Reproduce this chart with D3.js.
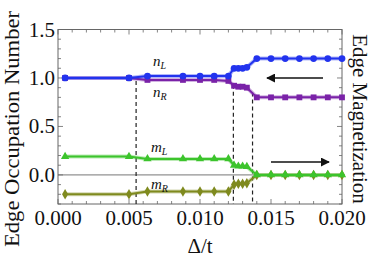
<!DOCTYPE html>
<html>
<head>
<meta charset="utf-8">
<script src="https://cdn.jsdelivr.net/npm/d3@7"></script>
<style>
  body { margin: 0; background: #fff; }
  svg text { font-family: "Times New Roman", "Liberation Serif", "DejaVu Serif", serif; fill: #111; }
</style>
</head>
<body>
<svg id="chart"></svg>
<script>
// data
const xVals = [0.0005, 0.005, 0.0063, 0.0088, 0.010, 0.011, 0.012, 0.0124, 0.0127, 0.0130, 0.0133, 0.014, 0.015, 0.016, 0.017, 0.018, 0.019, 0.020];
const nL = [1.0, 1.0, 1.02, 1.02, 1.02, 1.02, 1.02, 1.10, 1.10, 1.10, 1.11, 1.2, 1.2, 1.2, 1.2, 1.2, 1.2, 1.2];
const nR = [1.0, 1.0, 0.98, 0.98, 0.98, 0.98, 0.97, 0.92, 0.91, 0.91, 0.90, 0.8, 0.8, 0.8, 0.8, 0.8, 0.8, 0.8];
const mL = [0.19, 0.19, 0.165, 0.165, 0.165, 0.165, 0.165, 0.10, 0.09, 0.09, 0.085, 0, 0, 0, 0, 0, 0, 0];
const mR = [-0.2, -0.2, -0.17, -0.17, -0.17, -0.17, -0.17, -0.10, -0.09, -0.09, -0.085, 0, 0, 0, 0, 0, 0, 0];

const vlineX = [0.0055, 0.01235, 0.0137];
const vlineTop = [0.97, 0.93, 0.85];

const xTicks = [0, 0.005, 0.010, 0.015, 0.020];
const yTicks = [0, 0.5, 1.0, 1.5];

const svgWidth = 374, svgHeight = 260;
const margin = { top: 29.5, right: 32, bottom: 56, left: 58 };
const serif = '"Times New Roman", "Liberation Serif", "DejaVu Serif", serif';

const xScale = d3.scaleLinear().domain([0, 0.02])
  .range([margin.left, svgWidth - margin.right]);
const yScale = d3.scaleLinear().domain([-0.3, 1.5])
  .range([svgHeight - margin.bottom, margin.top]);

const svg = d3.select('#chart')
  .attr('width', svgWidth)
  .attr('height', svgHeight)
  .attr('font-family', serif);

const x0 = xScale.range()[0], x1 = xScale.range()[1];
const y0 = yScale.range()[0], y1 = yScale.range()[1];

// zero line
svg.append('line')
  .attr('x1', x0).attr('x2', x1)
  .attr('y1', yScale(0)).attr('y2', yScale(0))
  .attr('stroke', '#777').attr('stroke-width', 1);

// frame
svg.append('rect')
  .attr('x', x0).attr('y', y1)
  .attr('width', x1 - x0).attr('height', y0 - y1)
  .attr('fill', 'none').attr('stroke', '#666').attr('stroke-width', 1);

// inward ticks on all four sides
const xMinor = d3.range(0, 0.0205, 0.001);
const yMinor = d3.range(-3, 16).map(d => d / 10);
const tickG = svg.append('g').attr('stroke', '#666').attr('stroke-width', 0.8);
xMinor.forEach((v, i) => {
  const len = i % 5 === 0 ? 5 : 3;
  tickG.append('line').attr('x1', xScale(v)).attr('x2', xScale(v)).attr('y1', y0).attr('y2', y0 - len);
  tickG.append('line').attr('x1', xScale(v)).attr('x2', xScale(v)).attr('y1', y1).attr('y2', y1 + len);
});
yMinor.forEach(v => {
  const len = Math.abs(Math.round(v * 10)) % 5 === 0 ? 5 : 3;
  tickG.append('line').attr('y1', yScale(v)).attr('y2', yScale(v)).attr('x1', x0).attr('x2', x0 + len);
  tickG.append('line').attr('y1', yScale(v)).attr('y2', yScale(v)).attr('x1', x1).attr('x2', x1 - len);
});

// tick labels
svg.selectAll('.xlab').data(xTicks).enter().append('text')
  .attr('x', d => xScale(d)).attr('y', 225)
  .attr('text-anchor', 'middle').attr('font-size', 21)
  .text(d => d3.format('.3f')(d));
svg.selectAll('.ylab').data(yTicks).enter().append('text')
  .attr('x', 55).attr('y', d => yScale(d) + 7)
  .attr('text-anchor', 'end').attr('font-size', 21)
  .text(d => d3.format('.1f')(d));

// dashed vertical markers
svg.selectAll('.vline').data(vlineX).enter().append('line')
  .attr('x1', d => xScale(d)).attr('x2', d => xScale(d))
  .attr('y1', (d, i) => yScale(vlineTop[i])).attr('y2', y0)
  .attr('stroke', '#222').attr('stroke-width', 1.2)
  .attr('stroke-dasharray', '4,3');

const series = [
  { vals: mR, color: '#7f8a1e', sym: d3.symbolDiamond, size: 32 },
  { vals: mL, color: '#3cc42c', sym: d3.symbolTriangle, size: 30 },
  { vals: nR, color: '#7a22a8', sym: d3.symbolSquare, size: 34 },
  { vals: nL, color: '#2233ee', sym: d3.symbolCircle, size: 36 }
];

const line = d3.line().x(d => xScale(d[0])).y(d => yScale(d[1]));

series.forEach(s => {
  const pts = xVals.map((x, i) => [x, s.vals[i]]);
  svg.append('path').datum(pts)
    .attr('d', line).attr('fill', 'none')
    .attr('stroke', s.color).attr('stroke-opacity', 0.35).attr('stroke-width', 4);
  svg.append('path').datum(pts)
    .attr('d', line).attr('fill', 'none')
    .attr('stroke', s.color).attr('stroke-width', 2);
  svg.selectAll(null).data(pts).enter().append('path')
    .attr('d', d3.symbol().type(s.sym).size(s.size))
    .attr('transform', d => `translate(${xScale(d[0])},${yScale(d[1])})`)
    .attr('fill', s.color);
});

// curve labels
const labels = [
  { base: 'n', sub: 'L', x: 153, y: 66 },
  { base: 'n', sub: 'R', x: 153, y: 97 },
  { base: 'm', sub: 'L', x: 151, y: 152 },
  { base: 'm', sub: 'R', x: 151, y: 189 }
];
labels.forEach(l => {
  const t = svg.append('text').attr('x', l.x).attr('y', l.y)
    .attr('font-size', 15).attr('font-style', 'italic');
  t.append('tspan').text(l.base);
  t.append('tspan').attr('font-size', 10).attr('dy', 3).text(l.sub);
});

// arrows
svg.append('defs').append('marker')
  .attr('id', 'head').attr('viewBox', '0 0 10 10')
  .attr('refX', 9).attr('refY', 5)
  .attr('markerWidth', 9).attr('markerHeight', 9)
  .attr('markerUnits', 'userSpaceOnUse')
  .attr('orient', 'auto')
  .append('path').attr('d', 'M0,0 L10,5 L0,10 z').attr('fill', '#111');
svg.append('line')
  .attr('x1', 323).attr('x2', 267).attr('y1', 78).attr('y2', 78)
  .attr('stroke', '#111').attr('stroke-width', 1.3).attr('marker-end', 'url(#head)');
svg.append('line')
  .attr('x1', 271).attr('x2', 329).attr('y1', 162).attr('y2', 162)
  .attr('stroke', '#111').attr('stroke-width', 1.3).attr('marker-end', 'url(#head)');

// axis titles
svg.append('text')
  .attr('transform', 'translate(19,129) rotate(-90)')
  .attr('text-anchor', 'middle').attr('font-size', 21)
  .attr('textLength', 236).attr('lengthAdjust', 'spacingAndGlyphs')
  .text('Edge Occupation Number');
svg.append('text')
  .attr('transform', 'translate(353,119) rotate(90)')
  .attr('text-anchor', 'middle').attr('font-size', 21)
  .text('Edge Magnetization');
svg.append('text')
  .attr('x', 200).attr('y', 253)
  .attr('text-anchor', 'middle').attr('font-size', 21)
  .text('Δ/t');
</script>
</body>
</html>
